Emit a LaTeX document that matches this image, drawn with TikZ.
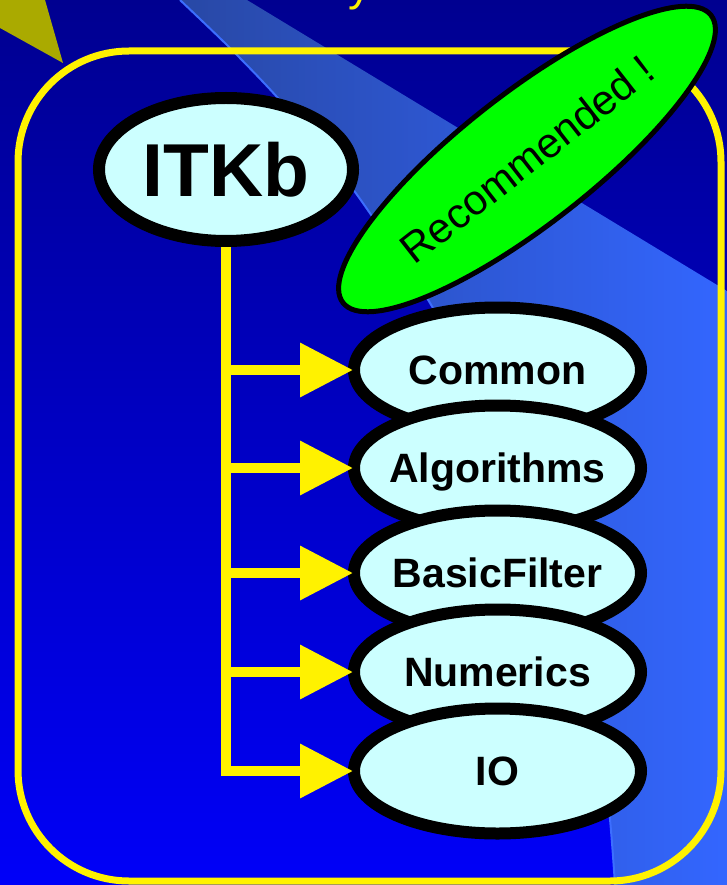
\documentclass[tikz,border=0pt]{standalone}
\usepackage{fontspec}
\setmainfont{Liberation Sans}
\usetikzlibrary{shapes.geometric,arrows.meta}
\definecolor{bgtop}{RGB}{0,0,144}
\definecolor{bgbot}{RGB}{0,0,248}
\definecolor{bandl}{RGB}{40,72,165}
\definecolor{bandr}{RGB}{51,102,255}
\definecolor{edgeblue}{RGB}{60,110,255}
\definecolor{nodefill}{RGB}{204,255,255}
\definecolor{recgreen}{RGB}{0,255,0}
\definecolor{olivearrow}{RGB}{170,170,0}
\newcommand{\mycenter}[1]{\makebox[0pt]{\raisebox{-0.36em}[0pt][0pt]{#1}}}
\begin{document}
\begin{tikzpicture}[x=1pt,y=-1pt,
  pkg/.style={ellipse, draw=black, line width=12pt, fill=nodefill,
    minimum width=287pt, minimum height=125pt, inner sep=0pt,
    font=\fontsize{41}{41}\selectfont\bfseries},
  conn/.style={draw=yellow, line width=10pt, line join=miter,
    -{Triangle[length=53pt,width=52pt]}, shorten >=-5pt}]
\useasboundingbox (0,0) rectangle (727,885);
% background
\shade[top color=bgtop, bottom color=bgbot] (0,0) rectangle (727,885);
% light band
\shade[left color=bandl, right color=bandr]
  plot[smooth] coordinates {(180,0) (230,48) (277,97) (320,148) (355,192) (395,250) (430,303) (484,400) (529,500) (565,600) (592,700) (608,800) (615,885)}
  -- (727,885) -- (727,291) -- (247,0) -- cycle;
\draw[edgeblue, line width=2pt]
  plot[smooth] coordinates {(180,0) (230,48) (277,97) (320,148) (355,192) (395,250) (430,303) (484,400) (529,500) (565,600) (592,700) (608,800) (615,885)};
% olive arrow piece at top left
\fill[olivearrow] (0,0) -- (45,0) -- (63,63) -- (0,28) -- cycle;
% cut-off title letter
\node[text=yellow, anchor=base west, inner sep=0pt,
  font=\fontsize{46}{46}\selectfont] (title) at (348,1) {y};
% frame
\draw[yellow, line width=7pt, rounded corners=111pt] (18,51) rectangle (721,881);
% root
\node[ellipse, draw=black, line width=12pt, fill=nodefill,
  minimum width=254pt, minimum height=143pt, inner sep=0pt,
  font=\fontsize{75}{75}\selectfont\bfseries] (itkb) at (226,169.5) {\mycenter{ITKb}};
% recommended
\node[ellipse, draw=black, line width=5pt, fill=recgreen,
  minimum width=467pt, minimum height=131pt, inner sep=0pt, rotate=38,
  font=\fontsize{42}{42}\selectfont] (rec) at (527,159) {\mycenter{Recommended !}};
% packages
\node[pkg] (common) at (497.5,370) {\mycenter{Common}};
\node[pkg] (algo) at (497.5,468) {\mycenter{Algorithms}};
\node[pkg] (basic) at (497.5,573) {\mycenter{BasicFilter}};
\node[pkg] (num) at (497.5,672) {\mycenter{Numerics}};
\node[pkg] (io) at (497.5,771) {\mycenter{IO}};
% connectors
\draw[conn] (itkb.south) |- (common.west);
\draw[conn] (itkb.south) |- (algo.west);
\draw[conn] (itkb.south) |- (basic.west);
\draw[conn] (itkb.south) |- (num.west);
\draw[conn] (itkb.south) |- (io.west);
\end{tikzpicture}
\end{document}
